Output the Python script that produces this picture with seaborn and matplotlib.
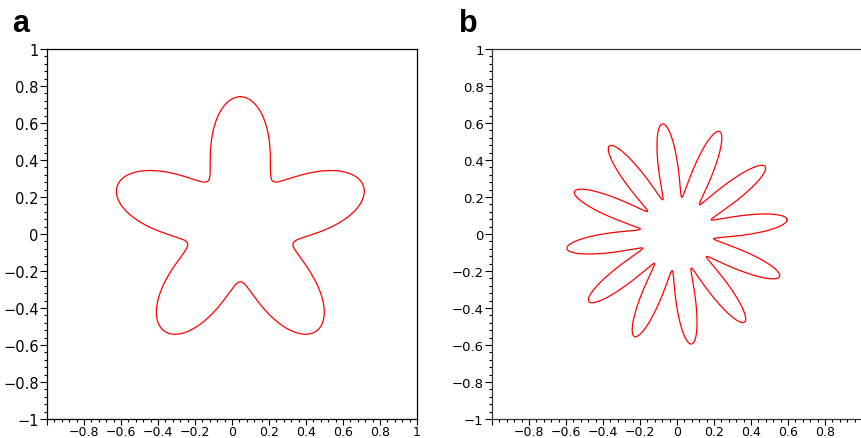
import numpy as np
import pandas as pd
import matplotlib
matplotlib.use("Agg")
import matplotlib.pyplot as plt
from matplotlib.ticker import MultipleLocator, FixedLocator, FixedFormatter
import seaborn as sns

# ---- data ----
panel_letters = ["a", "b"]
petal_counts = [5, 12]              # number of petals per shape
centers_x = [0.045, 0.0]            # centre of each flower
centers_y = [0.042, 0.0]
mean_radius = [0.5, 0.4]            # mean polar radius
radius_amplitude = [0.2, 0.2]       # petal amplitude (tip = mean+amp, valley = mean-amp)
tip_angle_deg = [90.0, 7.5]         # angle of one petal tip
tick_values = [-1, -0.8, -0.6, -0.4, -0.2, 0, 0.2, 0.4, 0.6, 0.8, 1]
y_tick_labels = ["\u22121", "\u22120.8", "\u22120.6", "\u22120.4", "\u22120.2", "0",
                 "0.2", "0.4", "0.6", "0.8", "1"]
x_tick_labels_a = ["", "\u22120.8", "\u22120.6", "\u22120.4", "\u22120.2", "0",
                   "0.2", "0.4", "0.6", "0.8", "1"]
x_tick_labels_b = ["", "\u22120.8", "\u22120.6", "\u22120.4", "\u22120.2", "0",
                   "0.2", "0.4", "0.6", "0.8", ""]

sns.set_style("white")
plt.rcParams["font.family"] = ["DejaVu Sans"]

W, H = 861, 439
fig = plt.figure(figsize=(W / 100, H / 100), dpi=100)

axes_px = [(47, 50), (492, 50)]   # left, top in pixels
size_px = 370
ytick_sizes = [10.5, 9.5]
xtick_sizes = [9.0, 9.0]
x_label_sets = [x_tick_labels_a, x_tick_labels_b]

for i, letter in enumerate(panel_letters):
    left, top = axes_px[i]
    ax = fig.add_axes([left / W, (H - top - size_px) / H, size_px / W, size_px / H])
    phi = np.deg2rad(tip_angle_deg[i])
    theta = phi + np.linspace(0, 2 * np.pi, 4000)
    r = mean_radius[i] + radius_amplitude[i] * np.cos(petal_counts[i] * (theta - phi))
    df = pd.DataFrame({"x": centers_x[i] + r * np.cos(theta),
                       "y": centers_y[i] + r * np.sin(theta)})
    sns.lineplot(data=df, x="x", y="y", sort=False, estimator=None,
                 color="#ff0000", linewidth=0.9, ax=ax)
    ax.set_xlim(-1, 1)
    ax.set_ylim(-1, 1)
    ax.set_xlabel("")
    ax.set_ylabel("")
    ax.xaxis.set_major_locator(FixedLocator(tick_values))
    ax.yaxis.set_major_locator(FixedLocator(tick_values))
    ax.xaxis.set_major_formatter(FixedFormatter(x_label_sets[i]))
    ax.yaxis.set_major_formatter(FixedFormatter(y_tick_labels))
    ax.xaxis.set_minor_locator(MultipleLocator(0.04))
    ax.yaxis.set_minor_locator(MultipleLocator(0.04))
    ax.tick_params(which="both", direction="out", bottom=True, left=True,
                   top=False, right=False, color="black", width=0.8)
    ax.tick_params(axis="y", which="major", length=5)
    ax.tick_params(axis="x", which="major", length=4)
    ax.tick_params(which="minor", length=2.5)
    ax.tick_params(axis="y", which="major", labelsize=ytick_sizes[i], pad=1,
                   labelcolor="black")
    ax.tick_params(axis="x", which="major", labelsize=xtick_sizes[i], pad=0.5,
                   labelcolor="black")
    for name, sp in ax.spines.items():
        sp.set_visible(True)
        sp.set_color("black" if i == 0 else "#333333")
        sp.set_linewidth(0.9)
    ax.set_facecolor("white")
    fig.text(([12.5, 459][i]) / W, (H - 32) / H, letter, fontsize=22,
             fontweight="bold", family=["Liberation Sans", "DejaVu Sans"],
             color="black", ha="left", va="baseline")

fig.savefig("out.png", dpi=100, facecolor="white")
